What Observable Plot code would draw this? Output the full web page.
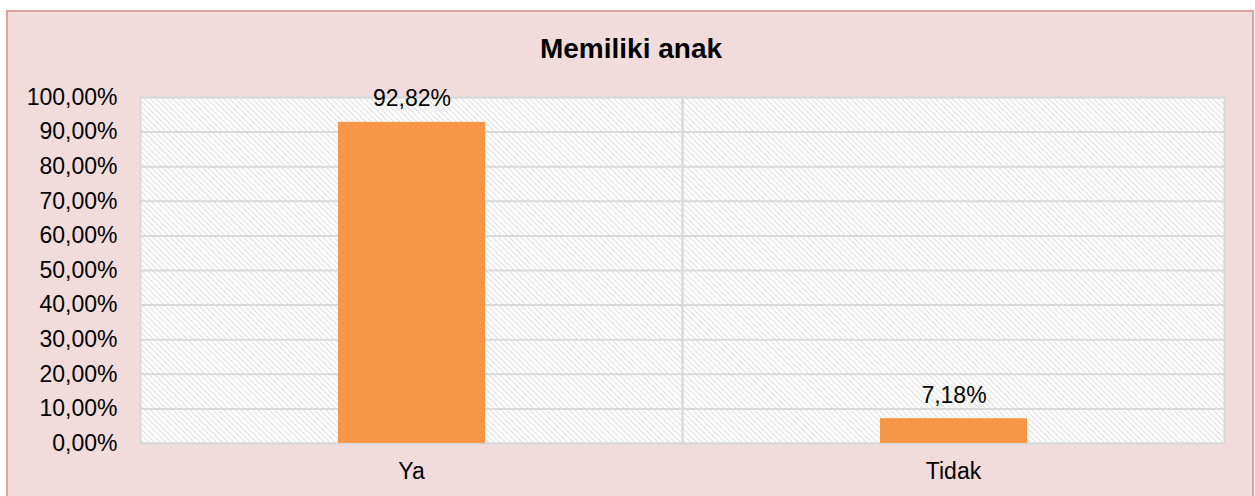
<!DOCTYPE html>
<html><head><meta charset="utf-8">
<script src="https://cdn.jsdelivr.net/npm/d3@7"></script>
<script src="https://cdn.jsdelivr.net/npm/@observablehq/plot@0.6"></script>
<style>
body{margin:0;background:#fff;font-family:"Liberation Sans",Arial,sans-serif;}
#box{position:absolute;left:6px;top:10px;width:1244px;height:500px;background:#f2dcdb;border:2px solid #e4a0a1;}
#title{position:absolute;left:6px;top:35px;width:1250px;line-height:28px;text-align:center;font-weight:bold;font-size:28px;color:#000;}
#chart{position:absolute;left:0;top:0;}
</style></head><body>
<div id="box"></div>
<div id="title">Memiliki anak</div>
<div id="chart"></div>
<script>
const categories = ["Ya", "Tidak"];
const values = [92.82, 7.18];
const yTicks = [0, 10, 20, 30, 40, 50, 60, 70, 80, 90, 100];

const data = categories.map((c, i) => ({category: c, value: values[i]}));
const fmt = v => v.toFixed(2).replace(".", ",") + "%";
const slot = () => "";

const plot = Plot.plot({
  width: 1255, height: 496,
  marginLeft: 140, marginRight: 31, marginTop: 97, marginBottom: 53,
  style: {background: "transparent", fontFamily: "'Liberation Sans', Arial, sans-serif", fontSize: "23px", color: "#000", overflow: "visible"},
  fx: {domain: categories, padding: 0, label: null, axis: "bottom", tickSize: 0, tickPadding: 19},
  x: {axis: null, padding: 0.5735},
  y: {domain: [0, 100], ticks: yTicks, tickFormat: fmt, tickSize: 0, tickPadding: 23, label: null},
  marks: [
    Plot.frame({fill: "url(#hatch)"}),
    Plot.gridY(yTicks, {stroke: "#d9d9d9", strokeOpacity: 1, strokeWidth: 2}),
    Plot.frame({stroke: "#d9d9d9", strokeWidth: 2}),
    Plot.barY(data, {fx: "category", x: slot, y: "value", fill: "#f79646"}),
    Plot.text(data, {fx: "category", x: slot, y: "value", text: d => fmt(d.value), lineAnchor: "bottom", dy: -16, fontSize: 23, fill: "#000"})
  ]
});

d3.select(plot).insert("defs", ":first-child").html(
  '<pattern id="hatch" patternUnits="userSpaceOnUse" width="4" height="4" patternTransform="rotate(-45)">' +
  '<rect width="4" height="4" fill="#ffffff"/>' +
  '<line x1="0" y1="0" x2="0" y2="4" stroke="#d6d6d6" stroke-width="1.6"/>' +
  '</pattern>'
);

document.getElementById("chart").appendChild(plot);
</script>
</body></html>
